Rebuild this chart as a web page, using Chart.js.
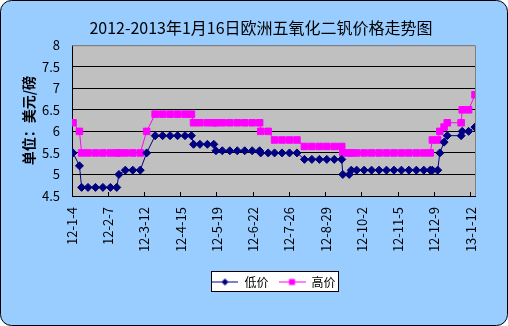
<!DOCTYPE html>
<html>
<head>
<meta charset="utf-8">
<script src="https://cdn.jsdelivr.net/npm/chart.js@4.4.0/dist/chart.umd.min.js"></script>
<style>
  html, body { margin: 0; padding: 0; background: #fff; }
</style>
</head>
<body>
<canvas id="chart" width="508" height="326"></canvas>
<script>
const dates = [
  "2012-01-05", "2012-01-11", "2012-01-13", "2012-01-19", "2012-01-26", "2012-02-02", "2012-02-09", "2012-02-15", "2012-02-17", "2012-02-23",
  "2012-03-01", "2012-03-08", "2012-03-14", "2012-03-22", "2012-03-29", "2012-04-05", "2012-04-12", "2012-04-19", "2012-04-25", "2012-04-27",
  "2012-05-03", "2012-05-10", "2012-05-16", "2012-05-18", "2012-05-24", "2012-05-31", "2012-06-07", "2012-06-14", "2012-06-21", "2012-06-28",
  "2012-06-29", "2012-07-06", "2012-07-12", "2012-07-19", "2012-07-26", "2012-08-02", "2012-08-09", "2012-08-16", "2012-08-23", "2012-08-30",
  "2012-09-06", "2012-09-13", "2012-09-14", "2012-09-20", "2012-09-22", "2012-09-27", "2012-10-04", "2012-10-11", "2012-10-18", "2012-10-25",
  "2012-11-01", "2012-11-08", "2012-11-15", "2012-11-22", "2012-11-29", "2012-12-05", "2012-12-07", "2012-12-12", "2012-12-14", "2012-12-18",
  "2012-12-21", "2013-01-03", "2013-01-04", "2013-01-10", "2013-01-16"
];

const lowPrice = [
  5.5, 5.2, 4.7, 4.7, 4.7, 4.7, 4.7, 4.7, 5.0, 5.1,
  5.1, 5.1, 5.5, 5.9, 5.9, 5.9, 5.9, 5.9, 5.9, 5.7,
  5.7, 5.7, 5.7, 5.55, 5.55, 5.55, 5.55, 5.55, 5.55, 5.55,
  5.5, 5.5, 5.5, 5.5, 5.5, 5.5, 5.35, 5.35, 5.35, 5.35,
  5.35, 5.35, 5.0, 5.0, 5.1, 5.1, 5.1, 5.1, 5.1, 5.1,
  5.1, 5.1, 5.1, 5.1, 5.1, 5.1, 5.1, 5.1, 5.5, 5.75,
  5.9, 5.9, 6.0, 6.0, 6.1
];

const highPrice = [
  6.2, 6.0, 5.5, 5.5, 5.5, 5.5, 5.5, 5.5, 5.5, 5.5,
  5.5, 5.5, 6.0, 6.4, 6.4, 6.4, 6.4, 6.4, 6.4, 6.2,
  6.2, 6.2, 6.2, 6.2, 6.2, 6.2, 6.2, 6.2, 6.2, 6.2,
  6.0, 6.0, 5.8, 5.8, 5.8, 5.8, 5.65, 5.65, 5.65, 5.65,
  5.65, 5.65, 5.5, 5.5, 5.5, 5.5, 5.5, 5.5, 5.5, 5.5,
  5.5, 5.5, 5.5, 5.5, 5.5, 5.5, 5.8, 5.8, 6.0, 6.1,
  6.2, 6.2, 6.5, 6.5, 6.85
];

// date axis: first label day and a label every 34 days
const axisStart = "2012-01-04";
const xTickLabels = ["12-1-4", "12-2-7", "12-3-12", "12-4-15", "12-5-19", "12-6-22",
  "12-7-26", "12-8-29", "12-10-2", "12-11-5", "12-12-9", "13-1-12"];
const xTickStep = 34;
const yTickLabels = ["4.5", "5", "5.5", "6", "6.5", "7", "7.5", "8"];

const FONT = "'Noto Sans CJK SC', 'Noto Sans', sans-serif";

function dayOf(s) {
  const [y, m, d] = s.split("-").map(Number);
  const [y0, m0, d0] = axisStart.split("-").map(Number);
  return Math.round((Date.UTC(y, m - 1, d) - Date.UTC(y0, m0 - 1, d0)) / 86400000);
}

const days = dates.map(dayOf);
const toPoints = (vals) => vals.map((v, i) => ({ x: days[i], y: v }));

// legend swatch: short line with the marker in the middle
function swatch(color, shape) {
  const c = document.createElement("canvas");
  c.width = 27; c.height = 9;
  const g = c.getContext("2d");
  g.strokeStyle = color; g.lineWidth = 1;
  g.beginPath(); g.moveTo(0, 4.5); g.lineTo(27, 4.5); g.stroke();
  g.fillStyle = color;
  g.beginPath();
  if (shape === "diamond") {
    g.moveTo(13.5, 1); g.lineTo(17, 4.5); g.lineTo(13.5, 8); g.lineTo(10, 4.5);
  } else {
    g.rect(10.5, 1.5, 6, 6);
  }
  g.closePath(); g.fill();
  return c;
}
const swatches = [swatch("#000080", "diamond"), swatch("#FF00FF", "square")];

const excelFrame = {
  id: "excelFrame",
  beforeDraw(chart) {
    const { ctx, chartArea: a, legend } = chart;
    ctx.save();
    ctx.fillStyle = "#99CCFF";
    ctx.strokeStyle = "#000";
    ctx.lineWidth = 1;
    ctx.beginPath();
    ctx.roundRect(0.5, 0.5, chart.width - 1, chart.height - 1, 11);
    ctx.fill();
    ctx.stroke();

    ctx.fillStyle = "#C0C0C0";
    ctx.fillRect(a.left, a.top, a.right - a.left, a.bottom - a.top);

    const hb = legend.legendHitBoxes;
    if (hb && hb.length) {
      const l = Math.min(...hb.map(h => h.left));
      const r = Math.max(...hb.map(h => h.left + h.width));
      const t = hb[0].top;
      ctx.fillStyle = "#fff";
      ctx.fillRect(Math.round(l) + 0.5, t - 4.5, Math.round(r - l) + 3, 20);
      ctx.strokeRect(Math.round(l) + 0.5, t - 4.5, Math.round(r - l) + 3, 20);
    }
    ctx.restore();
  },
  beforeDatasetsDraw(chart) {
    const { ctx, chartArea: a } = chart;
    ctx.save();
    ctx.strokeStyle = "#808080";
    ctx.lineWidth = 1;
    ctx.beginPath();
    ctx.moveTo(a.left, a.top + 0.5);
    ctx.lineTo(a.right + 0.5, a.top + 0.5);
    ctx.lineTo(a.right + 0.5, a.bottom);
    ctx.stroke();
    ctx.restore();
  }
};

new Chart(document.getElementById("chart"), {
  type: "line",
  data: {
    datasets: [
      {
        label: "低价",
        data: toPoints(lowPrice),
        borderColor: "#000080",
        backgroundColor: "#000080",
        borderWidth: 1,
        pointStyle: "rectRot",
        pointRadius: 4,
        pointBorderWidth: 1,
        tension: 0
      },
      {
        label: "高价",
        data: toPoints(highPrice),
        borderColor: "#FF00FF",
        backgroundColor: "#FF00FF",
        borderWidth: 1,
        pointStyle: "rect",
        pointRadius: 4.6,
        pointBorderWidth: 1,
        tension: 0
      }
    ]
  },
  options: {
    responsive: false,
    animation: false,
    events: [],
    layout: { padding: { left: 14, right: 0, top: 0, bottom: 28 } },
    plugins: {
      title: {
        display: true,
        text: "2012-2013年1月16日欧洲五氧化二钒价格走势图",
        color: "#000",
        font: { family: FONT, size: 16, weight: "normal" },
        padding: { top: 18, bottom: 8 }
      },
      legend: {
        position: "bottom",
        fullSize: false,
        labels: {
          color: "#000",
          font: { family: FONT, size: 12 },
          usePointStyle: true,
          pointStyleWidth: 27,
          padding: 10,
          generateLabels(chart) {
            const items = Chart.defaults.plugins.legend.labels.generateLabels(chart);
            items.forEach((it, i) => { it.pointStyle = swatches[i]; });
            return items;
          }
        }
      },
      tooltip: { enabled: false }
    },
    scales: {
      x: {
        type: "linear",
        min: 0,
        max: dayOf(dates[dates.length - 1]),
        afterFit(scale) { scale.height = 70; },
        grid: { drawOnChartArea: false, color: "#000", tickLength: -4 },
        border: { color: "#000", width: 1 },
        ticks: {
          stepSize: xTickStep,
          includeBounds: false,
          autoSkip: false,
          maxRotation: 90,
          minRotation: 90,
          padding: 15,
          color: "#000",
          font: { family: FONT, size: 13 },
          callback: (v) => xTickLabels[Math.round(v / xTickStep)] ?? ""
        }
      },
      y: {
        min: 4.5,
        max: 8,
        afterFit(scale) { scale.width = 58; },
        grid: {
          drawTicks: false,
          color: (c) => (c.tick && c.tick.value === 8 ? "#808080" : "#000")
        },
        border: { color: "#000", width: 1 },
        ticks: {
          stepSize: 0.5,
          padding: 12,
          color: "#000",
          font: { family: FONT, size: 13 },
          callback: (v) => yTickLabels[Math.round((v - 4.5) / 0.5)]
        },
        title: {
          display: true,
          text: "单位：美元/磅",
          color: "#000",
          font: { family: FONT, size: 14, weight: "bold" },
          padding: { top: 6, bottom: 0 }
        }
      },
      // empty right-hand strip so the plot ends where the original does
      yRight: {
        position: "right",
        afterFit(scale) { scale.width = 33; },
        grid: { display: false },
        border: { display: false },
        ticks: { display: false }
      }
    }
  },
  plugins: [excelFrame]
});
</script>
</body>
</html>
